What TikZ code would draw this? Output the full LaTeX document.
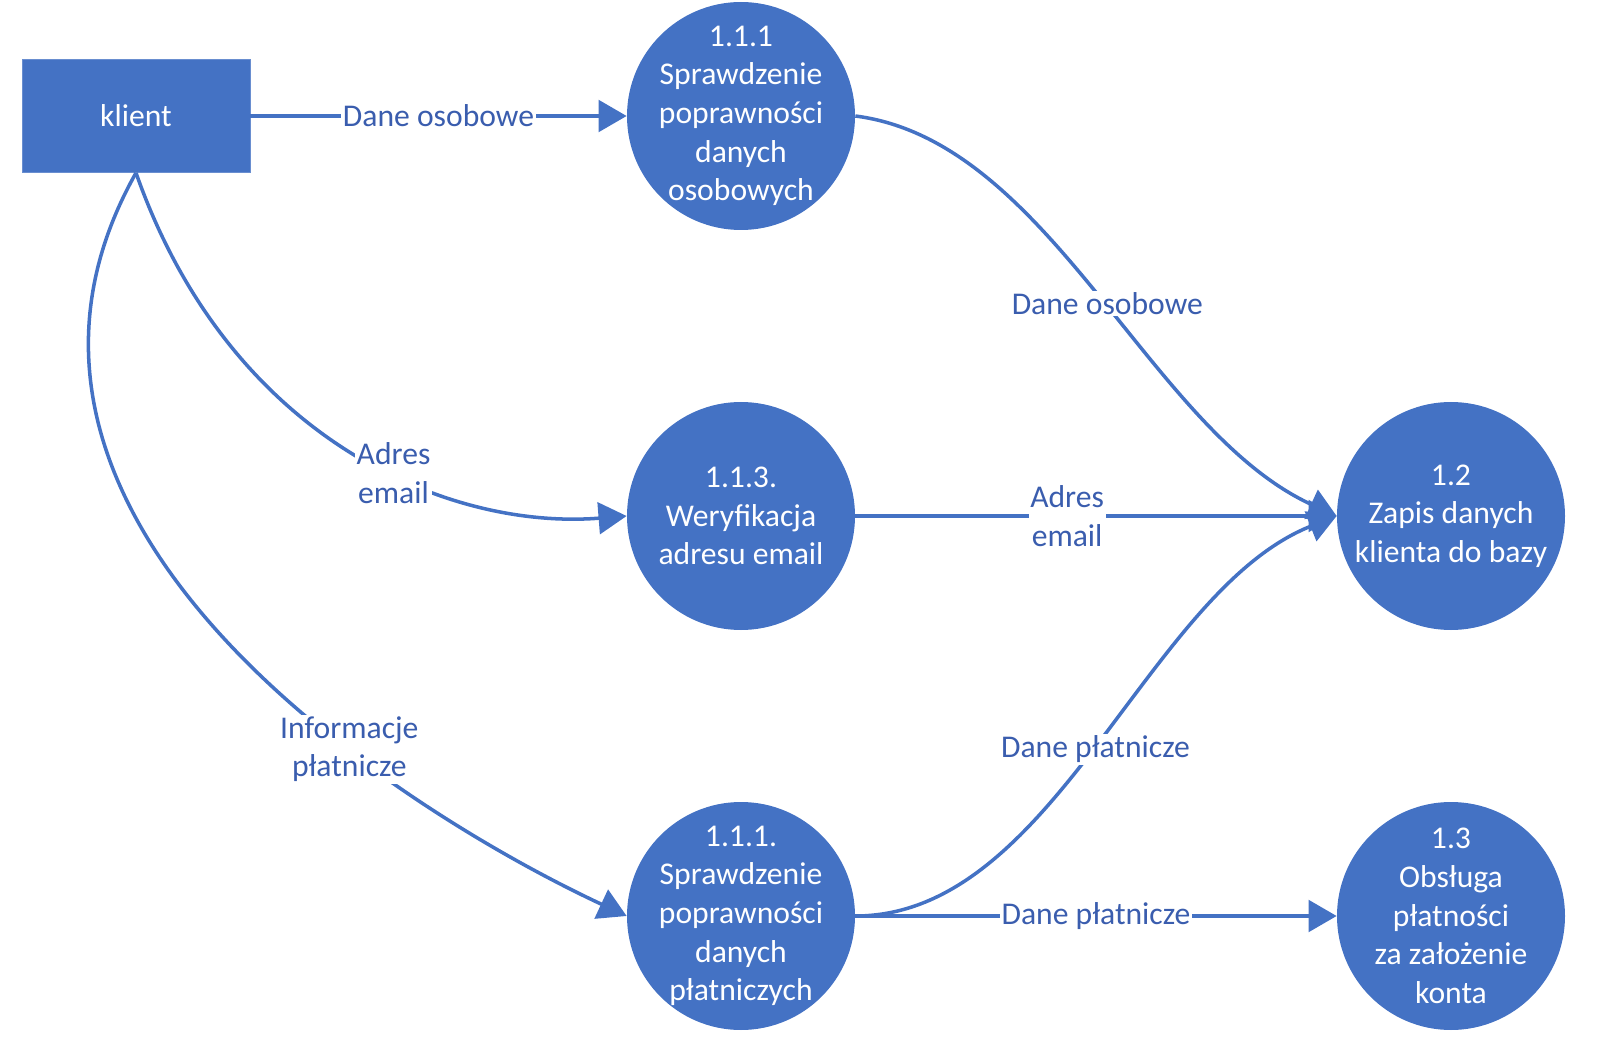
\documentclass[tikz,border=0pt]{standalone}
\usepackage{fontspec}
\setmainfont{Carlito}
\usepackage{xcolor}
\usepackage{tikz}
\usetikzlibrary{arrows.meta}
\definecolor{procblue}{HTML}{4472C4}
\definecolor{flowtext}{HTML}{3A5DAE}

\begin{document}
\begin{tikzpicture}[
    every node/.style={font=\fontsize{18}{22}\selectfont},
    proc/.style={circle,fill=procblue,minimum size=4.56cm,inner sep=0pt},
    proctext/.style={text=white,align=center},
    ext/.style={rectangle,fill=procblue,draw=procblue!80,minimum width=4.56cm,minimum height=2.26cm,text=white},
    flow/.style={draw=procblue,line width=2pt,-{Triangle[length=16pt,width=18pt]}},
    flowlab/.style={fill=white,text=flowtext,align=center,inner sep=1pt}
  ]
    \useasboundingbox (0,0) rectangle (32.32,21.26);
    % zewnetrzny podmiot i procesy
    \node[ext] (klient) at (2.72,18.94) {klient};
    \node[proc,label={[proctext]center:{1.1.1\\Sprawdzenie\\poprawności\\danych\\osobowych}}] (p111) at (14.82,18.94) {};
    \node[proc,label={[proctext]center:{1.1.3.\\Weryfikacja\\adresu email}}] (p113) at (14.82,10.94) {};
    \node[proc,label={[proctext]center:{1.1.1.\\Sprawdzenie\\poprawności\\danych\\płatniczych}}] (p1111) at (14.82,2.94) {};
    \node[proc,label={[proctext]center:{1.2\\Zapis danych\\klienta do bazy}}] (p12) at (29.02,10.94) {};
    \node[proc,label={[proctext]center:{1.3\\Obsługa\\płatności\\za założenie\\konta}}] (p13) at (29.02,2.94) {};
    % przeplywy
    \draw[flow] (klient) -- node[flowlab]{Dane osobowe} (p111);
    \draw[flow] (p111.east) .. controls +(3.9,-0.5) and +(-3.76,1.72) .. node[flowlab,pos=0.52]{Dane osobowe} (p12.west);
    \draw[flow] (klient.south) .. controls +(1.88,-5.36) and +(-3.54,-0.28) .. node[flowlab,pos=0.58]{Adres\\email} (p113.west);
    \draw[flow] (p113) -- node[flowlab,pos=0.44]{Adres\\email} (p12);
    \draw[flow] (klient.south) .. controls +(-3.92,-6.96) and +(-4.54,2.12) .. node[flowlab,pos=0.66]{Informacje\\płatnicze} (p1111.west);
    \draw[flow] (p1111.east) .. controls +(4,0) and +(-3.8,-1.5) .. node[flowlab,pos=0.49]{Dane płatnicze} (p12.west);
    \draw[flow] (p1111) -- node[flowlab]{Dane płatnicze} (p13);
\end{tikzpicture}
\end{document}
